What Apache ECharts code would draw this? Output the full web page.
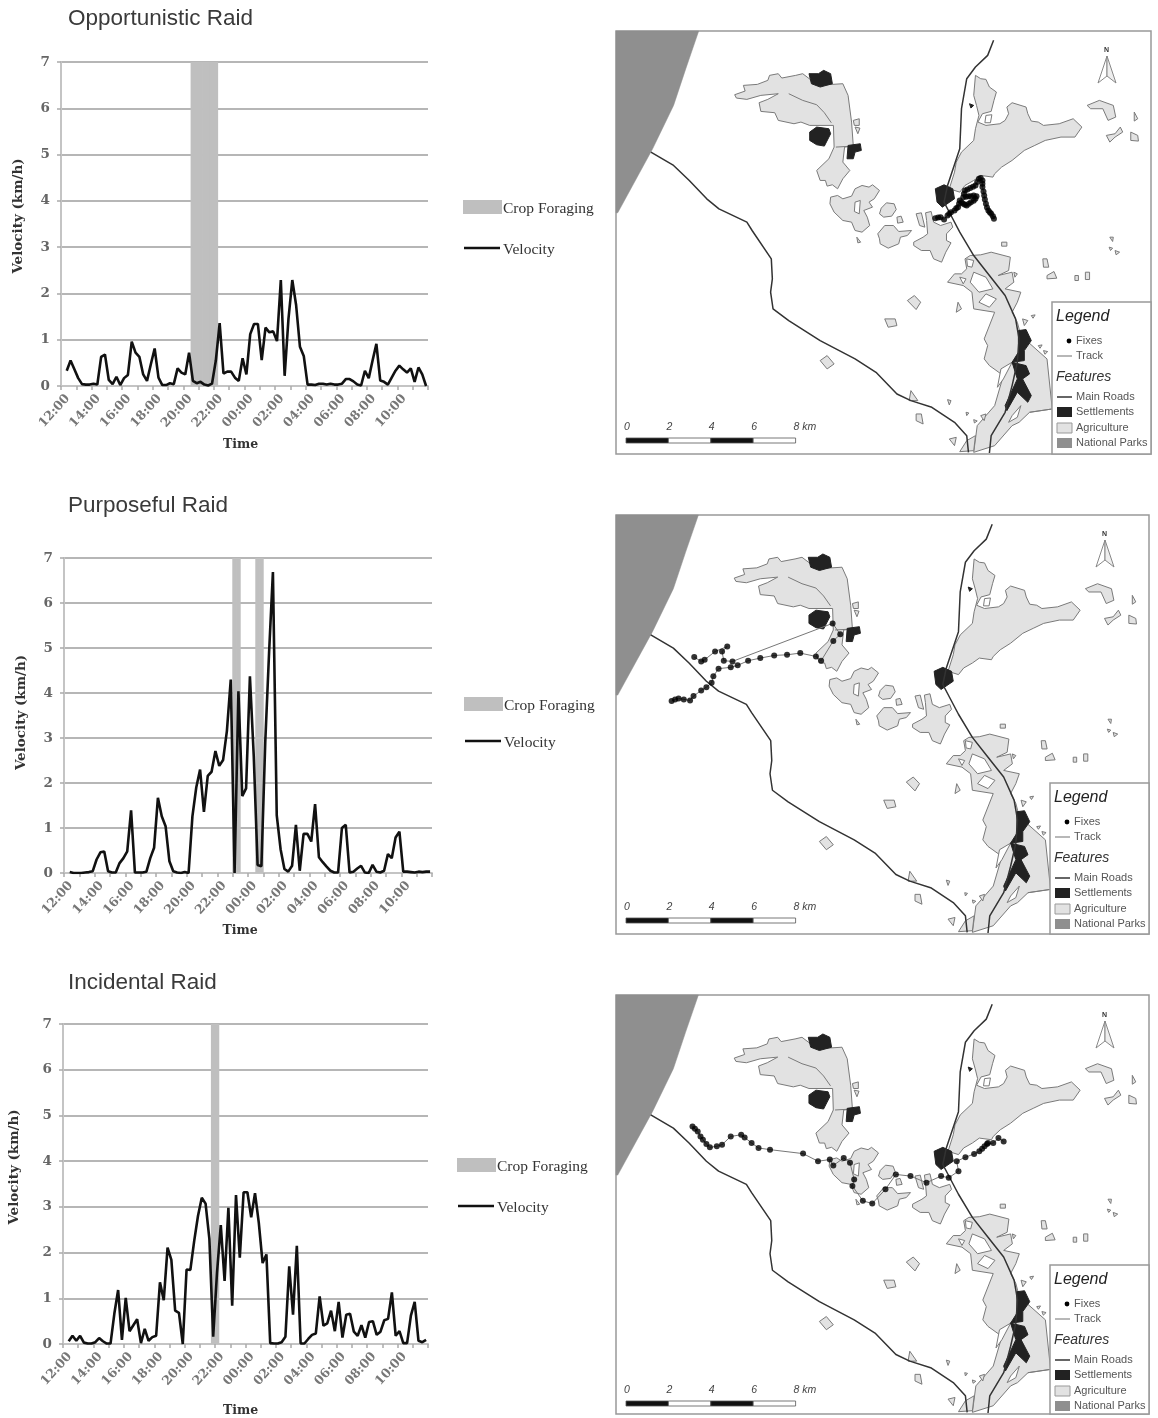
<!DOCTYPE html>
<html><head><meta charset="utf-8">
<style>html,body{margin:0;padding:0;background:#fff}#c{width:1158px;height:1418px}#c canvas{filter:blur(.65px)}</style>
<script src="https://cdn.jsdelivr.net/npm/echarts@6/dist/echarts.min.js"></script>
</head><body><div id="c"></div>
<script>
// ---- tick labels: one category per 15 minutes, 12:00 to 11:45
const timeLabels = [];
for (let i = 0; i < 96; i++) {
  const h = (12 + Math.floor(i / 4)) % 24, m = (i % 4) * 15;
  timeLabels.push(String(h).padStart(2, '0') + ':' + String(m).padStart(2, '0'));
}
const titles = ['Opportunistic Raid', 'Purposeful Raid', 'Incidental Raid'];

// ---- velocity (km/h)
const velocityOpportunistic = [null,.33,.55,.36,.17,.04,.03,.03,.05,.03,.63,.68,.13,.04,.2,.02,.17,.24,.96,.72,.63,.25,.11,.47,.81,.18,.02,.02,.06,.04,.38,.29,.25,.72,.11,.06,.09,.03,.01,.05,.55,1.36,.27,.31,.31,.18,.11,.6,.25,1.12,1.34,1.34,.56,1.26,1.16,1.18,.97,2.29,.22,1.45,2.29,1.75,.85,.65,.03,.03,.02,.05,.05,.03,.05,.03,.03,.05,.15,.15,.1,.03,.01,.33,.17,.55,.91,.12,.09,.03,.18,.33,.44,.36,.29,.38,.09,.4,.25,0];
const velocityPurposeful = [null,.02,0,0,0,.01,.02,.04,.3,.46,.48,.04,.01,.01,.22,.33,.48,1.39,.01,.01,.01,.03,.33,.56,1.67,1.26,1.04,.26,.04,.01,0,.02,0,1.26,1.9,2.3,1.36,2.16,2.25,2.71,2.38,2.51,3.16,4.3,0,4.04,1.71,1.88,4.37,2.6,.18,.15,2.9,4.9,6.69,1.28,.53,.09,.03,.16,1.07,.05,.87,.87,.7,1.53,.35,.24,.14,.05,.01,.01,1,1.07,.01,.03,.1,.16,.01,0,.18,.03,.01,.05,.42,.33,.79,.92,.03,.03,.02,.01,.03,.02,.03,.03];
const velocityIncidental = [null,.06,.18,.07,.18,.03,.01,.01,.04,.13,.06,.01,.01,.66,1.18,.09,1.01,.28,.41,.54,.02,.33,.07,.15,.18,1.35,.96,2.11,1.84,.73,.68,0,1.63,1.62,2.25,2.8,3.2,3.07,2.3,.16,1.55,2.6,1.38,2.98,.84,3.26,1.89,3.32,3.32,2.77,3.3,2.65,1.77,1.96,.02,.01,.01,.04,.16,1.7,.64,2.15,.01,.01,.11,.2,.23,1.04,.4,.45,.73,.28,.92,.14,.64,.66,.27,.18,.41,.14,.48,.5,.2,.27,.52,.55,1.13,.18,.28,.02,.02,.62,.92,.07,.04,.09];

// ---- crop-foraging periods, as category indexes
const cropOpportunistic = [34,35,36,37,38,39,40];
const cropPurposeful = [44,45,50,51];
const cropIncidental = [39,40];

// ---- map layers, in map units
const nationalPark = [[15,17],[252,17],[215,130],[180,240],[120,370],[20,562],[15,562]];
const agriculture = [
 [[355,208],[385,197],[380,180],[420,177],[450,165],[455,150],[480,145],[490,158],[530,150],[550,145],[575,165],[620,178],[665,175],[680,210],[690,290],[695,362],[670,365],[665,410],[685,435],[665,460],[650,490],[635,478],[620,482],[615,465],[600,465],[590,435],[625,400],[640,365],[638,300],[570,300],[545,290],[525,295],[480,285],[470,262],[430,258],[425,232],[450,222],[480,205],[430,210],[390,222],[360,218]],
 [[630,515],[650,510],[665,520],[690,512],[700,490],[720,480],[740,485],[750,478],[770,495],[755,520],[740,530],[750,545],[725,555],[735,575],[742,600],[720,620],[700,615],[690,590],[665,585],[640,560],[628,535]],
 [[775,548],[790,532],[812,535],[818,552],[805,572],[782,575],[770,565]],
 [[820,575],[832,572],[838,590],[822,593]],
 [[765,625],[785,600],[810,600],[825,618],[862,615],[850,630],[830,635],[825,655],[795,668],[772,655],[770,640]],
 [[875,565],[890,562],[900,605],[885,600]],
 [[868,650],[895,635],[908,625],[905,585],[902,562],[918,558],[925,590],[945,600],[975,590],[980,605],[962,625],[962,645],[975,652],[960,680],[948,710],[925,700],[915,675],[890,675],[868,660]],
 [[1045,150],[1060,160],[1075,162],[1085,185],[1105,200],[1098,225],[1090,258],[1065,265],[1052,290],[1075,300],[1115,295],[1130,285],[1140,265],[1135,245],[1150,232],[1190,245],[1195,265],[1205,287],[1225,290],[1240,300],[1285,295],[1325,280],[1350,305],[1330,335],[1290,335],[1245,345],[1215,360],[1185,375],[1150,405],[1120,425],[1100,445],[1095,455],[1060,450],[1040,465],[1015,480],[1000,500],[970,490],[985,440],[990,410],[1005,380],[1040,345],[1045,310],[1055,270],[1048,240],[1040,210]],
 [[965,770],[985,745],[1005,745],[1020,730],[1015,700],[1030,690],[1060,688],[1090,680],[1145,695],[1140,735],[1110,750],[1150,740],[1155,770],[1130,790],[1175,800],[1165,830],[1150,860],[1165,890],[1175,930],[1250,1000],[1265,1150],[1200,1160],[1170,1190],[1150,1200],[1100,1260],[1040,1280],[1050,1200],[1100,1140],[1125,1050],[1085,1020],[1070,1000],[1080,960],[1070,940],[1100,860],[1040,850],[1035,800],[1010,780]],
 [[1365,240],[1400,225],[1440,240],[1447,275],[1425,285],[1410,250],[1375,250]],
 [[1500,260],[1510,280],[1500,287]],
 [[1420,330],[1445,325],[1460,305],[1467,320],[1445,335],[1430,350]],
 [[1490,320],[1510,330],[1512,347],[1490,345]],
 [[850,825],[870,810],[888,830],[875,852]],
 [[785,880],[815,880],[820,900],[795,905]],
 [[600,1005],[620,990],[640,1015],[620,1030]],
 [[1238,700],[1250,700],[1255,725],[1240,725]],
 [[1250,750],[1270,738],[1278,758],[1250,760]],
 [[1330,750],[1340,750],[1340,765],[1330,765]],
 [[1360,740],[1372,740],[1372,762],[1360,762]],
 [[1120,650],[1135,650],[1135,662],[1120,662]],
 [[1430,635],[1440,635],[1438,648]],[[1428,665],[1438,668],[1432,675]],[[1445,675],[1458,680],[1448,688]],
 [[995,830],[1005,850],[990,860]],
 [[875,1165],[890,1165],[895,1195],[875,1185]],
 [[860,1095],[880,1125],[855,1125]],
 [[705,635],[716,650],[708,652]],
 [[970,1240],[990,1235],[985,1260]],[[1020,1245],[1045,1230],[1040,1275],[1000,1278]],
 [[1060,1170],[1075,1165],[1070,1185]],[[965,1122],[975,1125],[970,1138]],
 [[1018,1160],[1026,1162],[1020,1170]],[[1040,1182],[1050,1186],[1042,1192]],
 [[1205,870],[1216,868],[1210,878]],[[1225,960],[1236,958],[1230,968]],[[1240,975],[1252,978],[1244,986]],
 [[695,285],[712,280],[712,300],[698,300]],[[700,305],[714,308],[708,325]],
 [[1180,880],[1195,885],[1185,900]],[[1155,740],[1165,745],[1158,755]]
];
const fieldHoles = [
 [[1040,740],[1075,755],[1095,790],[1055,800],[1030,770]],
 [[1075,805],[1105,820],[1085,845],[1055,830]],
 [[1000,755],[1018,760],[1010,775]],
 [[700,530],[715,525],[712,565],[698,558]],
 [[1075,270],[1092,268],[1088,292],[1072,292]],
 [[1150,1010],[1118,1030],[1108,1085],[1125,1060]],
 [[1020,700],[1040,705],[1035,725],[1022,722]],
 [[1175,1140],[1150,1170],[1140,1190],[1165,1175]]
];
const fieldLines = [
 [[510,205],[550,225],[590,238],[612,262],[632,292]],
 [[645,365],[695,362]],
 [[1200,1160],[1265,1150]]
];
const settlements = [
 [[568,145],[595,145],[610,135],[630,145],[635,175],[600,185],[575,175]],
 [[570,320],[590,305],[625,310],[630,325],[612,362],[590,358],[570,345]],
 [[680,360],[715,355],[718,375],[700,380],[695,400],[677,400]],
 [[930,490],[955,478],[980,490],[985,520],[950,545],[935,530]],
 [[1168,915],[1190,912],[1205,945],[1185,975],[1185,1005],[1150,1010],[1168,980]],
 [[1150,1010],[1190,1020],[1200,1045],[1180,1060],[1205,1110],[1195,1130],[1165,1100],[1135,1155],[1130,1140],[1165,1060]],
 [[1028,235],[1040,240],[1032,248]]
];
const roadWest = [[115,380],[180,420],[225,465],[275,520],[310,550],[390,590],[405,615],[460,700],[463,760],[458,800],[465,850],[510,885],[600,945],[700,1000],[760,1040],[820,1105],[860,1125],[920,1145],[985,1190],[1020,1230],[1025,1280]];
const roadEast = [[1097,45],[1080,90],[1045,125],[1020,160],[1005,250],[1000,370],[965,480],[955,530],[975,570],[1000,620],[1040,690],[1085,750],[1130,810],[1160,880],[1170,940],[1165,1010],[1150,1080],[1130,1160],[1090,1230],[1085,1282]];

// ---- animal tracks (fixes), in map units
const fixesOpportunistic = [[930,578],[938,576],[945,575],[955,582],[965,570],[970,565],[975,560],[985,555],[990,548],[995,545],[998,535],[1000,525],[1005,530],[1010,535],[1015,538],[1020,540],[1026,535],[1032,530],[1040,526],[1045,520],[1048,512],[1040,510],[1032,512],[1025,512],[1018,514],[1010,515],[1012,505],[1015,495],[1022,492],[1030,488],[1038,484],[1045,480],[1050,470],[1055,460],[1060,458],[1065,465],[1065,475],[1065,485],[1068,498],[1070,510],[1072,522],[1075,535],[1078,546],[1082,555],[1086,560],[1090,565],[1095,572],[1098,580]];
const fixesPurposeful = [[175,580],[185,575],[195,572],[210,575],[228,578],[238,565],[260,548],[275,538],[290,525],[295,505],[310,482],[345,478],[365,472],[395,458],[430,450],[470,442],[507,440],[545,435],[590,445],[605,458],[640,398],[660,378],[638,345],[350,460],[325,458],[320,430],[335,415],[300,430],[270,455],[260,460],[240,447]];
const fixesIncidental = [[235,415],[242,422],[250,430],[258,445],[265,455],[275,468],[285,478],[305,475],[320,470],[345,445],[375,440],[385,448],[405,465],[425,480],[458,485],[553,497],[596,520],[630,515],[640,533],[670,510],[688,525],[700,575],[695,595],[725,640],[752,648],[790,605],[820,560],[862,565],[908,585],[950,565],[972,570],[1000,550],[995,520],[1020,508],[1045,498],[1060,490],[1068,482],[1075,475],[1082,468],[1085,465],[1100,465],[1115,450],[1130,460]];

// ---- layout
const charts = [
 {l:61,t:62,w:367,h:324,v:velocityOpportunistic,c:cropOpportunistic,ty:2,lx:463,ly:200,ly2:248,ng:52,np:8,yg:36,yp:16},
 {l:64,t:558,w:368,h:315,v:velocityPurposeful,c:cropPurposeful,ty:489,lx:464,ly:697,ly2:741,ng:51,np:16,yg:36,yp:6},
 {l:63,t:1024,w:365,h:329,v:velocityIncidental,c:cropIncidental,ty:966,lx:457,ly:1158,ly2:1206,ng:60,np:10,yg:42,yp:34}
];
const maps = [
 {l:616,t:31,w:535,h:423,f:fixesOpportunistic,bx:1052,by:302,sy:427,ny:50,nx:1107},
 {l:616,t:515,w:533,h:419,f:fixesPurposeful,bx:1050,by:783,sy:907,ny:534,nx:1105},
 {l:616,t:995,w:533,h:419,f:fixesIncidental,bx:1050,by:1265,sy:1390,ny:1015,nx:1105}
];
const serif = '"DejaVu Serif"', lserif = '"Liberation Serif"', sans = '"Liberation Sans"';
const grid=[],xAxis=[],yAxis=[],series=[],elements=[],title=[];

charts.forEach((c,i)=>{
  grid.push({left:c.l,top:c.t,width:c.w,height:c.h,containLabel:false});
  xAxis.push({type:'category',gridIndex:i,data:timeLabels,boundaryGap:true,
    axisLine:{lineStyle:{color:'#c4c4c4',width:2}},
    axisTick:{show:true,interval:3,length:4,lineStyle:{color:'#aaa',width:1.5}},
    axisLabel:{interval:7,rotate:48,fontFamily:serif,fontWeight:'bold',fontSize:12.5,color:'#777',margin:6,verticalAlign:'top',hideOverlap:false},
    name:'Time',nameLocation:'middle',nameGap:c.ng,nameTextStyle:{fontFamily:serif,fontWeight:'bold',fontSize:12.5,color:'#333',padding:[0,c.np,0,0]},
    splitLine:{show:false}});
  yAxis.push({type:'value',gridIndex:i,min:0,max:7,interval:1,
    axisLine:{show:true,lineStyle:{color:'#c4c4c4',width:2}},
    axisTick:{show:true,length:4,lineStyle:{color:'#aaa',width:1.5}},
    axisLabel:{fontFamily:serif,fontWeight:'bold',fontSize:13.5,color:'#666',margin:11},
    name:'Velocity (km/h)',nameLocation:'middle',nameGap:c.yg,nameTextStyle:{fontFamily:serif,fontWeight:'bold',fontSize:13.5,color:'#333',padding:[0,0,0,c.yp]},
    splitLine:{show:true,lineStyle:{color:'#b6b6b6',width:2}}});
  const crop=timeLabels.map((_,k)=>c.c.includes(k)?7:null);
  series.push({type:'bar',name:'Crop Foraging',xAxisIndex:i,yAxisIndex:i,data:crop,barWidth:'120%',itemStyle:{color:'#bfbfbf'},silent:true,animation:false,z:2});
  series.push({type:'line',name:'Velocity',xAxisIndex:i,yAxisIndex:i,data:c.v,showSymbol:false,smooth:false,lineStyle:{color:'#111',width:2.6,join:'bevel'},animation:false,z:3,connectNulls:false});
  title.push({text:titles[i],left:63,top:c.ty,textStyle:{fontFamily:sans,fontWeight:'normal',fontSize:22.5,color:'#3a3a3a'}});
  elements.push({type:'rect',shape:{x:c.lx,y:c.ly,width:39,height:14},style:{fill:'#bfbfbf'}});
  elements.push({type:'line',shape:{x1:c.lx+1,y1:c.ly2,x2:c.lx+37,y2:c.ly2},style:{stroke:'#111',lineWidth:2.4}});
  elements.push({type:'text',x:c.lx+40,y:c.ly+9,style:{text:'Crop Foraging',fill:'#333',font:'15.5px '+lserif,verticalAlign:'middle'}});
  elements.push({type:'text',x:c.lx+40,y:c.ly2+2,style:{text:'Velocity',fill:'#333',font:'15.5px '+lserif,verticalAlign:'middle'}});
});

function polySeries(name,gi,list,fill,stroke,lw,z){
  return {type:'custom',name,xAxisIndex:gi,yAxisIndex:gi,silent:true,animation:false,z,
    data:list.map((_,k)=>[k]),encode:{x:0,y:0},
    renderItem:(p,api)=>({type:'polygon',shape:{points:list[api.value(0)].map(q=>api.coord(q))},style:{fill,stroke,lineWidth:lw}})};
}
function roadSeries(name,gi,data,color,lw,z){
  return {type:'line',name,xAxisIndex:gi,yAxisIndex:gi,data,showSymbol:false,silent:true,animation:false,z,lineStyle:{color,width:lw}};
}
maps.forEach((m,j)=>{
  const gi=3+j;
  grid.push({left:m.l,top:m.t,width:m.w,height:m.h,show:true,borderColor:'#999',borderWidth:1.5,backgroundColor:'#fff'});
  xAxis.push({type:'value',gridIndex:gi,min:15,max:1548,show:false,splitLine:{show:false}});
  yAxis.push({type:'value',gridIndex:gi,min:17,max:1285,inverse:true,show:false,splitLine:{show:false}});
  series.push(polySeries('National Parks',gi,[nationalPark],'#8f8f8f','#8f8f8f',.5,2));
  series.push(polySeries('Agriculture',gi,agriculture,'#e2e2e2','#7a7a7a',1,3));
  series.push(polySeries('Holes',gi,fieldHoles,'#fff','#7a7a7a',1,4));
  fieldLines.forEach(f=>series.push(roadSeries('Field edge',gi,f,'#7a7a7a',1,4)));
  series.push(polySeries('Settlements',gi,settlements,'#222','#222',1,5));
  series.push(roadSeries('Main Roads',gi,roadWest,'#333',1.5,6));
  series.push(roadSeries('Main Roads',gi,roadEast,'#333',1.5,6));
  series.push(roadSeries('Track',gi,m.f,'#777',1,7));
  series.push({type:'scatter',name:'Fixes',xAxisIndex:gi,yAxisIndex:gi,data:m.f,symbolSize:6,silent:true,animation:false,z:8,itemStyle:{color:'#000'}});

  // map legend
  const x=m.bx,y=m.by,W=m.l+m.w-x,H=m.t+m.h-y;
  elements.push({type:'rect',shape:{x,y,width:W,height:H},style:{fill:'#fff',stroke:'#999',lineWidth:1.5},z:20});
  const add=(el)=>{el.z=21;elements.push(el)};
  const T=(t,tx,ty,font,fill)=>add({type:'text',x:tx,y:ty,style:{text:t,font,fill,verticalAlign:'middle'}});
  T('Legend',x+4,y+15,'italic 16px '+sans,'#222');
  add({type:'circle',shape:{cx:x+17,cy:y+39,r:2.4},style:{fill:'#000'}});
  T('Fixes',x+24,y+39,'11px '+sans,'#555');
  add({type:'line',shape:{x1:x+5,y1:y+54,x2:x+20,y2:y+54},style:{stroke:'#888',lineWidth:1.2}});
  T('Track',x+24,y+54,'11px '+sans,'#555');
  T('Features',x+4,y+75,'italic 14px '+sans,'#333');
  add({type:'line',shape:{x1:x+5,y1:y+95,x2:x+20,y2:y+95},style:{stroke:'#333',lineWidth:1.5}});
  T('Main Roads',x+24,y+95,'11px '+sans,'#555');
  add({type:'rect',shape:{x:x+5,y:y+105,width:15,height:10},style:{fill:'#222'}});
  T('Settlements',x+24,y+110,'11px '+sans,'#555');
  add({type:'rect',shape:{x:x+5,y:y+121,width:15,height:10},style:{fill:'#e2e2e2',stroke:'#999',lineWidth:1}});
  T('Agriculture',x+24,y+126,'11px '+sans,'#555');
  add({type:'rect',shape:{x:x+5,y:y+136,width:15,height:10},style:{fill:'#8f8f8f'}});
  T('National Parks',x+24,y+141,'11px '+sans,'#555');

  // scale bar
  const s0=626,sw=42.4,sy=m.sy;
  ['0','2','4','6','8 km'].forEach((t,k)=>T(t,s0+k*sw-2,sy,'italic 10.5px '+sans,'#444'));
  for(let k=0;k<4;k++) add({type:'rect',shape:{x:s0+k*sw,y:sy+11,width:sw,height:5},style:{fill:k%2?'#fff':'#111',stroke:'#555',lineWidth:.8}});

  // north arrow
  const nx=m.nx,ny=m.ny;
  T('N',nx-3,ny,'bold 7px '+sans,'#333');
  add({type:'polygon',shape:{points:[[nx,ny+6],[nx-9,ny+33],[nx,ny+26]]},style:{fill:'#fff',stroke:'#888',lineWidth:1}});
  add({type:'polygon',shape:{points:[[nx,ny+6],[nx+9,ny+33],[nx,ny+26]]},style:{fill:'#eee',stroke:'#888',lineWidth:1}});
});

const chart=echarts.init(document.getElementById('c'),null,{renderer:'canvas',width:1158,height:1418});
chart.setOption({animation:false,backgroundColor:'#fff',title,grid,xAxis,yAxis,series,graphic:{elements}});
</script></body></html>
